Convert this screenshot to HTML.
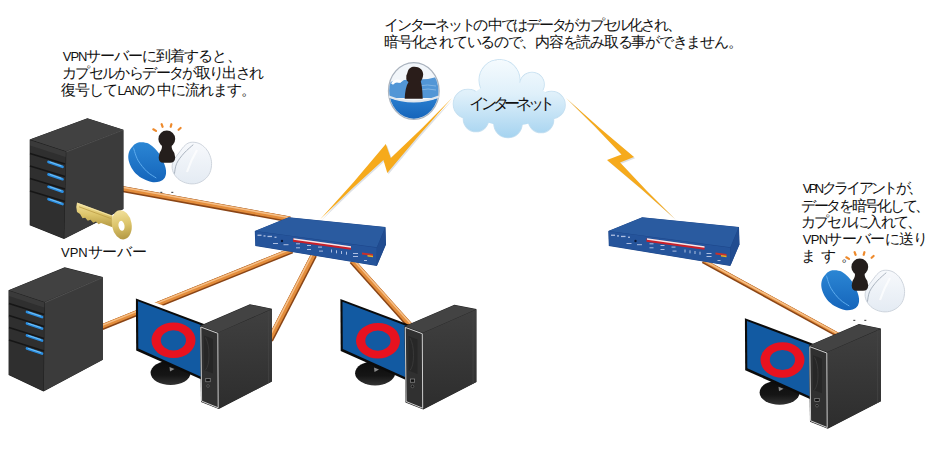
<!DOCTYPE html>
<html><head><meta charset="utf-8">
<style>
html,body{margin:0;padding:0;background:#fff;width:944px;height:455px;overflow:hidden}
svg{display:block}
text{font-family:"Liberation Sans",sans-serif;font-size:14.5px;fill:#111}
tspan.l{font-size:13px}
</style></head>
<body>
<svg width="944" height="455" viewBox="0 0 944 455">
<defs>
  <linearGradient id="cloudg" gradientUnits="userSpaceOnUse" x1="0" y1="58" x2="0" y2="138">
    <stop offset="0" stop-color="#f6fbfe"/>
    <stop offset="0.45" stop-color="#dff0fa"/>
    <stop offset="1" stop-color="#a5d3f0"/>
  </linearGradient>
  <linearGradient id="keyg" x1="0" y1="0" x2="0" y2="1">
    <stop offset="0" stop-color="#f2e19c"/>
    <stop offset="0.5" stop-color="#dcc46a"/>
    <stop offset="1" stop-color="#b39843"/>
  </linearGradient>
  <linearGradient id="blueh" x1="0" y1="0" x2="0" y2="1">
    <stop offset="0" stop-color="#2b86d4"/>
    <stop offset="1" stop-color="#1565bb"/>
  </linearGradient>
  <linearGradient id="whiteh" x1="0" y1="0" x2="0" y2="1">
    <stop offset="0" stop-color="#f7f9fc"/>
    <stop offset="1" stop-color="#e4ebf3"/>
  </linearGradient>
  <linearGradient id="standg" x1="0" y1="0" x2="0" y2="1">
    <stop offset="0" stop-color="#0c0c0c"/>
    <stop offset="0.6" stop-color="#151515"/>
    <stop offset="1" stop-color="#333"/>
  </linearGradient>
  <linearGradient id="towerg" x1="0" y1="0" x2="0" y2="1">
    <stop offset="0" stop-color="#404040"/>
    <stop offset="1" stop-color="#2d2d2d"/>
  </linearGradient>
  <linearGradient id="capblue" x1="0" y1="0" x2="0" y2="1">
    <stop offset="0" stop-color="#2a7fd0"/>
    <stop offset="1" stop-color="#1462b8"/>
  </linearGradient>

  <!-- open capsule (defined at left position) -->

  <!-- PC (defined at left position) -->

  <!-- router (defined at left position) -->

</defs>

<!-- ========== cables ========== -->
<g stroke-linecap="butt" fill="none">
  <g>
    <line x1="122.00" y1="189.00" x2="290.00" y2="219.50" stroke="#8a4516" stroke-width="6.0"/>
    <line x1="122.13" y1="188.31" x2="290.13" y2="218.81" stroke="#e38d3c" stroke-width="4.40"/>
    <line x1="122.30" y1="187.33" x2="290.30" y2="217.83" stroke="#f6c089" stroke-width="1.5"/>
  </g>
  <g>
    <line x1="102.00" y1="327.20" x2="292.00" y2="250.50" stroke="#8a4516" stroke-width="6.0"/>
    <line x1="101.74" y1="326.55" x2="291.74" y2="249.85" stroke="#e38d3c" stroke-width="4.40"/>
    <line x1="101.36" y1="325.62" x2="291.36" y2="248.92" stroke="#f6c089" stroke-width="1.5"/>
  </g>
  <g>
    <line x1="314.00" y1="255.00" x2="270.00" y2="340.00" stroke="#8a4516" stroke-width="6.4"/>
    <line x1="313.38" y1="254.68" x2="269.38" y2="339.68" stroke="#e38d3c" stroke-width="4.80"/>
    <line x1="312.31" y1="254.13" x2="268.31" y2="339.13" stroke="#f6c089" stroke-width="1.5"/>
  </g>
  <g>
    <line x1="352.00" y1="261.00" x2="412.00" y2="328.00" stroke="#8a4516" stroke-width="6.2"/>
    <line x1="352.52" y1="260.53" x2="412.52" y2="327.53" stroke="#e38d3c" stroke-width="4.60"/>
    <line x1="353.34" y1="259.80" x2="413.34" y2="326.80" stroke="#f6c089" stroke-width="1.5"/>
  </g>
  <g>
    <line x1="703.00" y1="261.00" x2="838.00" y2="335.00" stroke="#8a4516" stroke-width="4.6"/>
    <line x1="703.34" y1="260.39" x2="838.34" y2="334.39" stroke="#e38d3c" stroke-width="3.00"/>
    <line x1="703.48" y1="260.12" x2="838.48" y2="334.12" stroke="#f6c089" stroke-width="1.5"/>
  </g>
</g>

<!-- ========== lightning ========== -->
<path d="M320 219.5 Q354.1 182.8 385.8 144 L390.8 158 Q422.2 128.9 452 98 Q418.7 134.7 387.3 173 L383.4 160 Q350.9 188.9 320 219.5Z" fill="#dde1e6" transform="translate(1.2 1.2)"/>
<path d="M320 219.5 Q354.1 182.8 385.8 144 L390.8 158 Q422.2 128.9 452 98 Q418.7 134.7 387.3 173 L383.4 160 Q350.9 188.9 320 219.5Z" fill="#f6aa1c"/>
<path d="M566 98 Q599.2 128.4 634 157 L620 162.5 Q646.6 191.6 675 219 Q641.8 188.6 607 160 L621.5 154.5 Q594.6 125.4 566 98Z" fill="#dde1e6" transform="translate(1.2 1.2)"/>
<path d="M566 98 Q599.2 128.4 634 157 L620 162.5 Q646.6 191.6 675 219 Q641.8 188.6 607 160 L621.5 154.5 Q594.6 125.4 566 98Z" fill="#f6aa1c"/>

<!-- ========== servers ========== -->
<g>
  <path d="M29.7 139.6 L87.4 118.2 L123.4 129.7 L123.4 209 L64 239 L29.7 225.3 Z" fill="#1e1e1e"/>
  <path d="M66.3 151.8 L123.4 130.2 L123.4 209 L64.3 238.6 Z" fill="#3b3b3b"/>
  <path d="M30.2 139.6 L87.4 118.6 L123 129.8 L66 151.3 Z" fill="#414141"/>
  <path d="M30.2 140.2 L65.8 151.8 L63.8 238.5 L30.2 225 Z" fill="#2f2f2f"/>
  <path d="M30.2 140.2 L65.8 151.8 L65.6 157 L30.2 145.5 Z" fill="#3a3a3a"/>
  <path d="M66.3 151.8 L123.2 130" stroke="#555" stroke-width="0.9"/>
  <g stroke="#161616" stroke-width="1.5">
    <line x1="30" y1="153.5" x2="65" y2="164"/>
    <line x1="30" y1="166" x2="65" y2="176.5"/>
    <line x1="30" y1="178.5" x2="65" y2="189"/>
    <line x1="30" y1="191" x2="65" y2="201.5"/>
  </g>
  <g stroke="#2a8ee2" stroke-width="2.7" stroke-linecap="round">
    <line x1="48.5" y1="162" x2="62.5" y2="166.8"/>
    <line x1="48.5" y1="174.4" x2="62.5" y2="179.2"/>
    <line x1="48.5" y1="186.8" x2="62.5" y2="191.6"/>
    <line x1="48.5" y1="199.2" x2="62.5" y2="204"/>
  </g>
  <g stroke="#7cc6f6" stroke-width="0.9" stroke-linecap="round">
    <line x1="50" y1="162" x2="61" y2="165.8"/>
    <line x1="50" y1="174.4" x2="61" y2="178.2"/>
    <line x1="50" y1="186.8" x2="61" y2="190.6"/>
    <line x1="50" y1="199.2" x2="61" y2="203"/>
  </g>
  <!-- key -->
  <path d="M77 202.5 L112.5 215.5 L112.5 227.3 L101 223 L98.5 224.2 L96 221.5 L93.2 222.8 L90.5 219.8 L87.8 220.8 L85.2 217.8 L82.5 218.2 L80 214 L77 212 Q75.5 207 77 202.5Z" fill="url(#keyg)"/>
  <path d="M79 206.8 L111 218.6" stroke="#bfa24a" stroke-width="0.9"/>
  <path d="M78.5 203.8 L111.5 216" stroke="#f6e8b0" stroke-width="0.8"/>
  <ellipse cx="121.8" cy="224.8" rx="9.8" ry="14.7" transform="rotate(-10 121.8 224.8)" fill="url(#keyg)"/>
  <ellipse cx="121.5" cy="225.8" rx="3" ry="5" transform="rotate(-10 121.5 225.8)" fill="#fff"/>
</g>
<g>
  <path d="M8.5 290.2 L64.7 267.3 L102.8 277 L102.8 359.8 L43.5 391.5 L8.6 375 Z" fill="#1e1e1e"/>
  <path d="M44.8 302.6 L102.8 277.5 L102.8 359.8 L43.8 391 Z" fill="#3b3b3b"/>
  <path d="M9 290.2 L64.7 267.7 L102.4 277.2 L44.5 302.1 Z" fill="#414141"/>
  <path d="M9 290.8 L44.3 302.6 L43.3 391 L9 374.7 Z" fill="#2f2f2f"/>
  <path d="M9 290.8 L44.3 302.6 L44.2 307.5 L9 296 Z" fill="#3a3a3a"/>
  <path d="M44.8 302.6 L102.6 277.5" stroke="#555" stroke-width="0.9"/>
  <g stroke="#161616" stroke-width="1.5">
    <line x1="9" y1="303.5" x2="44" y2="314.5"/>
    <line x1="9" y1="315.5" x2="44" y2="326.5"/>
    <line x1="9" y1="327.5" x2="44" y2="338.5"/>
    <line x1="9" y1="340" x2="44" y2="351"/>
  </g>
  <g stroke="#2a8ee2" stroke-width="2.7" stroke-linecap="round">
    <line x1="27" y1="312" x2="42" y2="317"/>
    <line x1="27" y1="323.5" x2="42" y2="328.5"/>
    <line x1="27" y1="335.5" x2="42" y2="340.5"/>
    <line x1="27" y1="348.5" x2="42" y2="353.5"/>
  </g>
  <g stroke="#7cc6f6" stroke-width="0.9" stroke-linecap="round">
    <line x1="28.5" y1="312" x2="40.5" y2="316"/>
    <line x1="28.5" y1="323.5" x2="40.5" y2="327.5"/>
    <line x1="28.5" y1="335.5" x2="40.5" y2="339.5"/>
    <line x1="28.5" y1="348.5" x2="40.5" y2="352.5"/>
  </g>
</g>

<!-- ========== routers ========== -->
<g>
    <path d="M254.8 230.9 L288.7 217.3 L385.5 227 L386 244.5 L376.8 266 L255.3 245.9 Z" fill="#1d4689"/>
    <path d="M255.3 230.9 L288.7 217.6 L385.2 227.3 L376.8 247.3 Z" fill="#2a5ba0"/>
    <path d="M377 247.5 L385.3 227.5 L385.8 244.5 L377 265.6 Z" fill="#214c90"/>
    <path d="M255.3 231.3 L376.6 247.7 L376.6 265.6 L255.6 245.6 Z" fill="#25549b"/>
    <path d="M293 238.5 L351 246.5 L351 249.8 L293 241.8Z" fill="#c8202a"/>
    <path d="M293.5 238.2 L351 246.2 L351 247.7 L293.5 239.7Z" fill="#f4e8ec"/>
    <path d="M362 252.5 L373 254 L373 256 L362 254.5Z" fill="#c8302a"/>
    <path d="M367.5 255 L373 255.8 L373 257.3 L367.5 256.5Z" fill="#e8b020"/>
    <g fill="#aebfe2">
      <rect x="257.5" y="234.6" width="4" height="1.3"/>
      <rect x="263.5" y="235.3" width="2" height="1.3"/>
      <rect x="267.5" y="235.8" width="4.5" height="1.3"/>
      <rect x="274.5" y="236.6" width="2" height="1.3"/>
      <rect x="273" y="243" width="5" height="1"/>
      <rect x="283.5" y="244.2" width="5" height="1"/>
      <rect x="296" y="243.3" width="4" height="1"/>
      <rect x="307" y="245" width="4" height="1"/>
      <rect x="318" y="246.6" width="4" height="1"/>
      <rect x="296" y="247.3" width="4" height="1"/>
      <rect x="307" y="249" width="4" height="1"/>
      <rect x="319" y="250.6" width="4" height="1"/>
      <rect x="331" y="249.5" width="1" height="3"/>
      <rect x="336" y="250.3" width="1" height="3"/>
      <rect x="341" y="251" width="1" height="3"/>
      <rect x="346" y="251.7" width="1" height="3"/>
      <rect x="353" y="253" width="5" height="1"/>
      <rect x="353" y="256" width="5" height="1"/>
      <rect x="364" y="260" width="3" height="1"/>
    </g>
    <circle cx="282" cy="241" r="1.2" fill="#0a1838"/>
</g>
<g transform="translate(353.5 0)">
    <path d="M254.8 230.9 L288.7 217.3 L385.5 227 L386 244.5 L376.8 266 L255.3 245.9 Z" fill="#1d4689"/>
    <path d="M255.3 230.9 L288.7 217.6 L385.2 227.3 L376.8 247.3 Z" fill="#2a5ba0"/>
    <path d="M377 247.5 L385.3 227.5 L385.8 244.5 L377 265.6 Z" fill="#214c90"/>
    <path d="M255.3 231.3 L376.6 247.7 L376.6 265.6 L255.6 245.6 Z" fill="#25549b"/>
    <path d="M293 238.5 L351 246.5 L351 249.8 L293 241.8Z" fill="#c8202a"/>
    <path d="M293.5 238.2 L351 246.2 L351 247.7 L293.5 239.7Z" fill="#f4e8ec"/>
    <path d="M362 252.5 L373 254 L373 256 L362 254.5Z" fill="#c8302a"/>
    <path d="M367.5 255 L373 255.8 L373 257.3 L367.5 256.5Z" fill="#e8b020"/>
    <g fill="#aebfe2">
      <rect x="257.5" y="234.6" width="4" height="1.3"/>
      <rect x="263.5" y="235.3" width="2" height="1.3"/>
      <rect x="267.5" y="235.8" width="4.5" height="1.3"/>
      <rect x="274.5" y="236.6" width="2" height="1.3"/>
      <rect x="273" y="243" width="5" height="1"/>
      <rect x="283.5" y="244.2" width="5" height="1"/>
      <rect x="296" y="243.3" width="4" height="1"/>
      <rect x="307" y="245" width="4" height="1"/>
      <rect x="318" y="246.6" width="4" height="1"/>
      <rect x="296" y="247.3" width="4" height="1"/>
      <rect x="307" y="249" width="4" height="1"/>
      <rect x="319" y="250.6" width="4" height="1"/>
      <rect x="331" y="249.5" width="1" height="3"/>
      <rect x="336" y="250.3" width="1" height="3"/>
      <rect x="341" y="251" width="1" height="3"/>
      <rect x="346" y="251.7" width="1" height="3"/>
      <rect x="353" y="253" width="5" height="1"/>
      <rect x="353" y="256" width="5" height="1"/>
      <rect x="364" y="260" width="3" height="1"/>
    </g>
    <circle cx="282" cy="241" r="1.2" fill="#0a1838"/>
</g>

<!-- ========== PCs ========== -->
<g>
    <!-- stand -->
    <ellipse cx="170.6" cy="372.8" rx="20" ry="12.2" fill="url(#standg)"/>
    <path d="M169.5 367 L174.5 369 L170 371.5Z" fill="#8a8a8a"/>
    <!-- monitor -->
    <path d="M134.9 298.1 L207 325.2" stroke="#fff" stroke-width="6"/>
    <path d="M135.9 298.5 L206 324.8 L206 381.5 L136.2 350.6 Z" fill="#0b0b0b"/>
    <path d="M138 301.3 L206 327 L206 379 L138.3 348.5 Z" fill="#125aa2"/>
    <path fill-rule="evenodd" fill="#e8121f" d="M151.5 340.3 a22 17.8 0 1 0 44 0 a22 17.8 0 1 0 -44 0 Z M160.8 340.3 a12.6 10.1 0 1 0 25.2 0 a12.6 10.1 0 1 0 -25.2 0 Z"/>
    <!-- tower -->
    <path d="M199.9 325.8 L249.9 304.3 L271.9 308.7 L271.9 381.5 L218.8 409 L201 402 Z" fill="#222"/>
    <path d="M218.3 332.6 L271.9 309.2 L271.9 381.5 L218.8 408.6 Z" fill="url(#towerg)"/>
    <path d="M268.6 310.6 L268.6 383.2" stroke="#454545" stroke-width="0.8"/>
    <path d="M200.6 325.9 L249.9 304.8 L271.4 309 L218.3 332.4 Z" fill="#434343"/>
    <path d="M200.4 326.4 L218 332.8 L218.4 408.4 L201.2 401.6 Z" fill="#303030"/>
    <path d="M200.8 327 L217.8 333.3 L218.2 407.8 L201.6 401.1 Z" fill="none" stroke="#cfcfcf" stroke-width="1"/>
    <path d="M204 335.5 L213 339 L213 373.5 L204 370Z" fill="#272727"/>
    <path d="M205.5 337.5 Q209 344 209 355 Q209 366 205.5 370" stroke="#3c3c3c" stroke-width="0.8" fill="none"/>
    <rect x="205.8" y="378.6" width="4.4" height="3.2" fill="#111" stroke="#9a9a9a" stroke-width="0.6"/>
    <circle cx="208" cy="386" r="1.3" fill="#111" stroke="#8a8a8a" stroke-width="0.5"/>
</g>
<g transform="translate(204.5 0.4)">
    <!-- stand -->
    <ellipse cx="170.6" cy="372.8" rx="20" ry="12.2" fill="url(#standg)"/>
    <path d="M169.5 367 L174.5 369 L170 371.5Z" fill="#8a8a8a"/>
    <!-- monitor -->
    <path d="M135.9 298.5 L206 324.8 L206 381.5 L136.2 350.6 Z" fill="#0b0b0b"/>
    <path d="M138 301.3 L206 327 L206 379 L138.3 348.5 Z" fill="#125aa2"/>
    <path fill-rule="evenodd" fill="#e8121f" d="M151.5 340.3 a22 17.8 0 1 0 44 0 a22 17.8 0 1 0 -44 0 Z M160.8 340.3 a12.6 10.1 0 1 0 25.2 0 a12.6 10.1 0 1 0 -25.2 0 Z"/>
    <!-- tower -->
    <path d="M199.9 325.8 L249.9 304.3 L271.9 308.7 L271.9 381.5 L218.8 409 L201 402 Z" fill="#222"/>
    <path d="M218.3 332.6 L271.9 309.2 L271.9 381.5 L218.8 408.6 Z" fill="url(#towerg)"/>
    <path d="M268.6 310.6 L268.6 383.2" stroke="#454545" stroke-width="0.8"/>
    <path d="M200.6 325.9 L249.9 304.8 L271.4 309 L218.3 332.4 Z" fill="#434343"/>
    <path d="M200.4 326.4 L218 332.8 L218.4 408.4 L201.2 401.6 Z" fill="#303030"/>
    <path d="M200.8 327 L217.8 333.3 L218.2 407.8 L201.6 401.1 Z" fill="none" stroke="#cfcfcf" stroke-width="1"/>
    <path d="M204 335.5 L213 339 L213 373.5 L204 370Z" fill="#272727"/>
    <path d="M205.5 337.5 Q209 344 209 355 Q209 366 205.5 370" stroke="#3c3c3c" stroke-width="0.8" fill="none"/>
    <rect x="205.8" y="378.6" width="4.4" height="3.2" fill="#111" stroke="#9a9a9a" stroke-width="0.6"/>
    <circle cx="208" cy="386" r="1.3" fill="#111" stroke="#8a8a8a" stroke-width="0.5"/>
</g>
<g transform="translate(609 19.7)">
    <!-- stand -->
    <ellipse cx="170.6" cy="372.8" rx="20" ry="12.2" fill="url(#standg)"/>
    <path d="M169.5 367 L174.5 369 L170 371.5Z" fill="#8a8a8a"/>
    <!-- monitor -->
    <path d="M135.9 298.5 L206 324.8 L206 381.5 L136.2 350.6 Z" fill="#0b0b0b"/>
    <path d="M138 301.3 L206 327 L206 379 L138.3 348.5 Z" fill="#125aa2"/>
    <path fill-rule="evenodd" fill="#e8121f" d="M151.5 340.3 a22 17.8 0 1 0 44 0 a22 17.8 0 1 0 -44 0 Z M160.8 340.3 a12.6 10.1 0 1 0 25.2 0 a12.6 10.1 0 1 0 -25.2 0 Z"/>
    <!-- tower -->
    <path d="M199.9 325.8 L249.9 304.3 L271.9 308.7 L271.9 381.5 L218.8 409 L201 402 Z" fill="#222"/>
    <path d="M218.3 332.6 L271.9 309.2 L271.9 381.5 L218.8 408.6 Z" fill="url(#towerg)"/>
    <path d="M268.6 310.6 L268.6 383.2" stroke="#454545" stroke-width="0.8"/>
    <path d="M200.6 325.9 L249.9 304.8 L271.4 309 L218.3 332.4 Z" fill="#434343"/>
    <path d="M200.4 326.4 L218 332.8 L218.4 408.4 L201.2 401.6 Z" fill="#303030"/>
    <path d="M200.8 327 L217.8 333.3 L218.2 407.8 L201.6 401.1 Z" fill="none" stroke="#cfcfcf" stroke-width="1"/>
    <path d="M204 335.5 L213 339 L213 373.5 L204 370Z" fill="#272727"/>
    <path d="M205.5 337.5 Q209 344 209 355 Q209 366 205.5 370" stroke="#3c3c3c" stroke-width="0.8" fill="none"/>
    <rect x="205.8" y="378.6" width="4.4" height="3.2" fill="#111" stroke="#9a9a9a" stroke-width="0.6"/>
    <circle cx="208" cy="386" r="1.3" fill="#111" stroke="#8a8a8a" stroke-width="0.5"/>
</g>

<!-- ========== cloud ========== -->
<g stroke="#c6e0f1" stroke-width="1.6">
  <circle cx="468" cy="104" r="14.5"/><circle cx="499.5" cy="80" r="20.2"/><circle cx="532" cy="84.5" r="12"/>
  <circle cx="551.5" cy="105" r="13.5"/><circle cx="541" cy="120" r="12.5"/><circle cx="508" cy="123.5" r="14"/>
  <circle cx="476" cy="119" r="12.5"/>
</g>
<g fill="url(#cloudg)">
  <circle cx="468" cy="104" r="14.5"/><circle cx="499.5" cy="80" r="20.2"/><circle cx="532" cy="84.5" r="12"/>
  <circle cx="551.5" cy="105" r="13.5"/><circle cx="541" cy="120" r="12.5"/><circle cx="508" cy="123.5" r="14"/>
  <circle cx="476" cy="119" r="12.5"/>
  <ellipse cx="510" cy="104" rx="42" ry="22"/>
</g>

<!-- ========== closed capsule ========== -->
<g>
  <ellipse cx="413.8" cy="91" rx="25.3" ry="28.4" fill="#f2f6fa" stroke="#aab3be" stroke-width="1.3"/>
  <clipPath id="capclip"><ellipse cx="413.8" cy="91" rx="24.6" ry="27.7"/></clipPath>
  <g clip-path="url(#capclip)">
    <path d="M388 98 L388 84 Q392 80 396 82 Q400 84 404 80 L428 79 Q434 78 440 76 L440 98 Z" fill="#5296d6"/>
    <path d="M392 84 Q396 79 401 82" stroke="#ffffff" stroke-width="2.5" fill="none"/>
    <path d="M418 86 Q428 84 436 86 M420 90 Q428 88 436 90" stroke="#8cbbe6" stroke-width="0.8" fill="none"/>
    <path d="M386 96.5 Q413.8 107.5 442 96.5 L442 121 L386 121 Z" fill="url(#capblue)"/>
  </g>
  <path d="M388.6 96.5 Q413.8 106.5 439 96.5" stroke="#dfe6ee" stroke-width="2.2" fill="none"/>
  <path d="M414.5 66.7 C419.5 66.7 423.3 70 423.2 74.5 C423.1 78 421.5 80 420.8 81.5 C421.8 85 422.5 90 422.7 98.8 L404.7 98.8 C405 92 406 86 408.5 82 C407 81 406 79.5 406.3 78 C406.5 76.5 406 75.5 406.8 74.5 C407.5 73 407.8 70 409.5 68.5 C411 67 412.5 66.7 414.5 66.7Z" fill="#2a1d1a"/>
</g>

<!-- ========== open capsules ========== -->
<g>
    <g stroke="#ee8a2c" stroke-width="2.2" stroke-linecap="round">
      <line x1="153.3" y1="129.3" x2="156" y2="130.9"/>
      <line x1="161.6" y1="124.2" x2="162.6" y2="126.8"/>
      <line x1="171.4" y1="124.2" x2="170.7" y2="126.8"/>
      <line x1="180.6" y1="128" x2="178.6" y2="129.8"/>
    </g>
    <path d="M140.3 142.2 C142 142.2 144.8 142.2 147.1 143.1 C149.4 144 151.9 145.8 154 147.7 C156.1 149.6 158.1 152.1 159.7 154.6 C161.3 157.1 162.6 159.9 163.7 162.6 C164.8 165.3 165.8 168.1 166 170.6 C166.2 173.1 166 175.6 164.9 177.4 C163.8 179.2 161.9 180.6 159.7 181.4 C157.5 182.2 154.4 182.4 151.7 182 C149 181.6 146.4 180.5 143.7 179.1 C141 177.7 137.9 175.6 135.7 173.4 C133.5 171.2 131.8 168.6 130.6 166 C129.4 163.4 128.5 160.5 128.3 158 C128.1 155.5 128.6 153.2 129.4 151.1 C130.2 149 132.2 146.8 133.4 145.4 C134.7 144 135.8 143.4 136.9 142.9 C138.1 142.4 138.6 142.2 140.3 142.2Z" fill="url(#blueh)"/>
    <path d="M133.4 147.7 C134.2 149.8 135.7 156.3 138 160.3 C140.3 164.3 144 168.8 147.1 171.7 C150.2 174.6 154.8 176.9 156.3 178" stroke="#5eacee" stroke-width="1" fill="none"/>
    <path d="M191 142.3 C193.3 142 196.5 142.4 199 143.4 C201.5 144.4 204.1 146.6 205.9 148.6 C207.7 150.6 209 152.9 209.9 155.4 C210.8 157.9 211.6 160.5 211.6 163.4 C211.6 166.3 211.1 169.9 209.9 172.6 C208.8 175.3 206.9 177.6 204.7 179.4 C202.5 181.2 199.5 182.7 196.7 183.4 C193.8 184.1 190.4 184 187.6 183.4 C184.8 182.8 181.9 181.6 179.6 180 C177.3 178.4 175.2 175.9 173.9 173.7 C172.7 171.5 172.1 169.2 172.1 166.9 C172.1 164.6 172.7 162.5 173.9 160 C175.2 157.5 177.7 154.5 179.6 152 C181.5 149.5 183.4 146.7 185.3 145.1 C187.2 143.5 188.7 142.6 191 142.3Z" fill="url(#whiteh)" stroke="#c9d0d9" stroke-width="0.9"/>
    <path d="M193.3 144.6 C191.8 146 186.9 150 184.1 153.1 C181.3 156.2 178.3 160 176.7 163.4 C175.1 166.8 174.8 172 174.4 173.7" stroke="#a2acb8" stroke-width="0.9" fill="none"/>
    <path d="M197 150 Q191 160 187 172" stroke="#ffffff" stroke-width="2.2" fill="none" opacity="0.7"/>
    <circle cx="166.8" cy="139" r="8.4" fill="#241e1c"/>
    <path d="M162 145 L171.6 145 Q171.5 148 172.5 150 Q175.3 153 175.2 157.5 Q175 162.8 170 162.8 L163.5 162.8 Q158.8 162.8 158.7 157.5 Q158.6 153 161.2 150 Q162.2 148 162 145Z" fill="#241e1c"/>
    <rect x="160.3" y="191.8" width="2" height="1.2" fill="#555"/>
    <rect x="171.3" y="191.8" width="2" height="1.2" fill="#555"/>
</g>
<g transform="translate(693 128)">
    <g stroke="#ee8a2c" stroke-width="2.2" stroke-linecap="round">
      <line x1="153.3" y1="129.3" x2="156" y2="130.9"/>
      <line x1="161.6" y1="124.2" x2="162.6" y2="126.8"/>
      <line x1="171.4" y1="124.2" x2="170.7" y2="126.8"/>
      <line x1="180.6" y1="128" x2="178.6" y2="129.8"/>
    </g>
    <path d="M140.3 142.2 C142 142.2 144.8 142.2 147.1 143.1 C149.4 144 151.9 145.8 154 147.7 C156.1 149.6 158.1 152.1 159.7 154.6 C161.3 157.1 162.6 159.9 163.7 162.6 C164.8 165.3 165.8 168.1 166 170.6 C166.2 173.1 166 175.6 164.9 177.4 C163.8 179.2 161.9 180.6 159.7 181.4 C157.5 182.2 154.4 182.4 151.7 182 C149 181.6 146.4 180.5 143.7 179.1 C141 177.7 137.9 175.6 135.7 173.4 C133.5 171.2 131.8 168.6 130.6 166 C129.4 163.4 128.5 160.5 128.3 158 C128.1 155.5 128.6 153.2 129.4 151.1 C130.2 149 132.2 146.8 133.4 145.4 C134.7 144 135.8 143.4 136.9 142.9 C138.1 142.4 138.6 142.2 140.3 142.2Z" fill="url(#blueh)"/>
    <path d="M133.4 147.7 C134.2 149.8 135.7 156.3 138 160.3 C140.3 164.3 144 168.8 147.1 171.7 C150.2 174.6 154.8 176.9 156.3 178" stroke="#5eacee" stroke-width="1" fill="none"/>
    <path d="M191 142.3 C193.3 142 196.5 142.4 199 143.4 C201.5 144.4 204.1 146.6 205.9 148.6 C207.7 150.6 209 152.9 209.9 155.4 C210.8 157.9 211.6 160.5 211.6 163.4 C211.6 166.3 211.1 169.9 209.9 172.6 C208.8 175.3 206.9 177.6 204.7 179.4 C202.5 181.2 199.5 182.7 196.7 183.4 C193.8 184.1 190.4 184 187.6 183.4 C184.8 182.8 181.9 181.6 179.6 180 C177.3 178.4 175.2 175.9 173.9 173.7 C172.7 171.5 172.1 169.2 172.1 166.9 C172.1 164.6 172.7 162.5 173.9 160 C175.2 157.5 177.7 154.5 179.6 152 C181.5 149.5 183.4 146.7 185.3 145.1 C187.2 143.5 188.7 142.6 191 142.3Z" fill="url(#whiteh)" stroke="#c9d0d9" stroke-width="0.9"/>
    <path d="M193.3 144.6 C191.8 146 186.9 150 184.1 153.1 C181.3 156.2 178.3 160 176.7 163.4 C175.1 166.8 174.8 172 174.4 173.7" stroke="#a2acb8" stroke-width="0.9" fill="none"/>
    <path d="M197 150 Q191 160 187 172" stroke="#ffffff" stroke-width="2.2" fill="none" opacity="0.7"/>
    <circle cx="166.8" cy="139" r="8.4" fill="#241e1c"/>
    <path d="M162 145 L171.6 145 Q171.5 148 172.5 150 Q175.3 153 175.2 157.5 Q175 162.8 170 162.8 L163.5 162.8 Q158.8 162.8 158.7 157.5 Q158.6 153 161.2 150 Q162.2 148 162 145Z" fill="#241e1c"/>
    <rect x="160.3" y="191.8" width="2" height="1.2" fill="#555"/>
    <rect x="171.3" y="191.8" width="2" height="1.2" fill="#555"/>
</g>

<!-- ========== texts ========== -->
<text x="62.7" y="61" textLength="178.8"><tspan class="l">VPN</tspan>サーバーに到着すると、</text>
<text x="61.8" y="78" textLength="202.4">カプセルからデータが取り出され</text>
<text x="61.3" y="95.3" textLength="195">復号して<tspan class="l">LAN</tspan>の 中に流れます。</text>
<text x="61.1" y="256.8" textLength="86.2"><tspan class="l">VPN</tspan>サーバー</text>
<text x="384" y="29.5" textLength="297.5">インターネットの 中ではデータがカプセル化され、</text>
<text x="384.1" y="46.8" textLength="358.4">暗号化されているので、内容を読み取る事ができません。</text>
<text x="469.2" y="109" textLength="86.1" style="font-size:16px">インターネット</text>
<text x="802.8" y="193" textLength="120.1"><tspan class="l">VPN</tspan>クライアントが、</text>
<text x="800.8" y="210.5" textLength="129.5">データを暗号化して、</text>
<text x="800.8" y="227" textLength="121.6">カプセルに入れて、</text>
<text x="802.8" y="244" textLength="125.3"><tspan class="l">VPN</tspan>サーバーに送り</text>
<text x="800.5" y="260.5" textLength="55">ます。</text>
</svg>
</body></html>
